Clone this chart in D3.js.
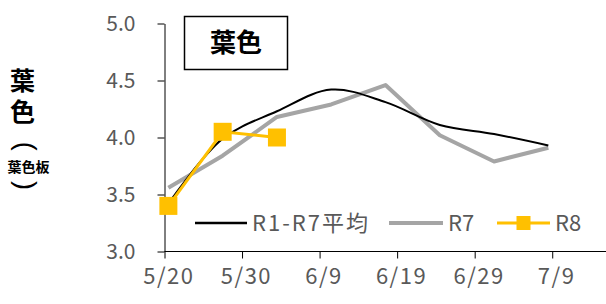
<!DOCTYPE html>
<html>
<head>
<meta charset="utf-8">
<script src="https://cdn.jsdelivr.net/npm/d3@7"></script>
<style>
  body { margin: 0; background: #fff; }
  svg { display: block; font-family: "Noto Sans CJK JP", "Noto Sans", sans-serif; }
</style>
</head>
<body>
<div id="chart"></div>
<script>
// sampling dates (weekly) and values
const dates = ["5/20", "5/27", "6/3", "6/10", "6/17", "6/24", "7/1", "7/8"];
const avgR1R7 = [3.42, 3.99, 4.23, 4.42, 4.31, 4.11, 4.03, 3.93];
const r7 = [3.56, 3.84, 4.18, 4.29, 4.46, 4.02, 3.79, 3.91];
const r8 = [3.40, 4.05, 4.00];

const xTickLabels = ["5/20", "5/30", "6/9", "6/19", "6/29", "7/9"];
const yTicks = [3.0, 3.5, 4.0, 4.5, 5.0];
const seriesNames = ["R1-R7平均", "R7", "R8"];

// day number counted from 5/20
const monthStart = { 5: 0, 6: 31, 7: 61 };
const toDay = (s) => {
	const [m, d] = s.split("/").map(Number);
	return monthStart[m] + d - 20;
};

const width = 606;
const height = 304;

const svg = d3.select("#chart")
	.append("svg")
		.attr("width", width)
		.attr("height", height);

// date axis: one category per day, tick marks sit between days
const xScale = d3.scaleLinear()
	.domain([-0.5, 56.5])
	.range([164.5, 606.5]);

const yScale = d3.scaleLinear()
	.domain([3, 5])
	.range([251.5, 23.5]);

const halfDay = xScale(0) - xScale(-0.5);

// axes
const xAxis = svg.append("g")
	.attr("transform", `translate(0,${yScale(3)})`)
	.call(d3.axisBottom(xScale)
		.tickValues(xTickLabels.map(toDay))
		.tickFormat((d, i) => xTickLabels[i])
		.tickSize(7)
		.tickSizeOuter(0));
xAxis.selectAll(".tick line").attr("transform", `translate(${-halfDay},0)`);
xAxis.select(".domain").attr("d", `M${xScale(-0.5)},0H${width}`);

const yAxis = svg.append("g")
	.attr("transform", `translate(${xScale(-0.5)},0)`)
	.call(d3.axisLeft(yScale)
		.tickValues(yTicks)
		.tickFormat(d3.format(".1f"))
		.tickSize(7)
		.tickSizeOuter(0));

svg.selectAll(".domain, .tick line").attr("stroke", "#000");
xAxis.selectAll(".tick text")
	.attr("font-size", 22)
	.attr("fill", "#595959")
	.attr("dy", "1.0em")
	.attr("letter-spacing", 1.5)
	.attr("font-family", "Noto Sans CJK JP");
yAxis.selectAll(".tick text")
	.attr("font-size", 21)
	.attr("fill", "#595959")
	.attr("x", -29)
	.attr("font-family", "Noto Sans CJK JP");

// lines
const avgData = dates.map((d, i) => ({ day: toDay(d), v: avgR1R7[i] }));
const r7Data = dates.map((d, i) => ({ day: toDay(d), v: r7[i] }));
const r8Data = r8.map((v, i) => ({ day: toDay(dates[i]), v: v }));

const line = d3.line()
	.x(d => xScale(d.day))
	.y(d => yScale(d.v));

svg.append("path")
	.datum(r7Data)
	.attr("d", line)
	.attr("fill", "none")
	.attr("stroke", "#a5a5a5")
	.attr("stroke-width", 4)
	.attr("stroke-linejoin", "round");

svg.append("path")
	.datum(avgData)
	.attr("d", line.curve(d3.curveCatmullRom.alpha(0.5)))
	.attr("fill", "none")
	.attr("stroke", "#000")
	.attr("stroke-width", 2);

line.curve(d3.curveLinear);

svg.append("path")
	.datum(r8Data)
	.attr("d", line)
	.attr("fill", "none")
	.attr("stroke", "#ffc000")
	.attr("stroke-width", 3);

const sq = 18;
svg.selectAll("rect.r8")
	.data(r8Data)
	.join("rect")
		.attr("class", "r8")
		.attr("x", d => xScale(d.day) - sq / 2)
		.attr("y", d => yScale(d.v) - sq / 2)
		.attr("width", sq)
		.attr("height", sq)
		.attr("fill", "#ffc000");

// legend
const legend = svg.append("g").attr("transform", "translate(0,223)");
const legendItems = [
	{ x: 195, w: 52, color: "#000", sw: 2.5, marker: false, ls: 2 },
	{ x: 389, w: 54, color: "#a5a5a5", sw: 4, marker: false, ls: 0 },
	{ x: 497, w: 53, color: "#ffc000", sw: 3, marker: true, ls: 0 }
];
legendItems.forEach((it, i) => {
	legend.append("line")
		.attr("x1", it.x).attr("x2", it.x + it.w)
		.attr("stroke", it.color)
		.attr("stroke-width", it.sw);
	if (it.marker) {
		legend.append("rect")
			.attr("x", it.x + it.w / 2 - 7).attr("y", -7)
			.attr("width", 14).attr("height", 14)
			.attr("fill", it.color);
	}
	legend.append("text")
		.attr("x", it.x + it.w + 5)
		.attr("dy", "0.36em")
		.attr("font-size", 22)
		.attr("letter-spacing", it.ls)
		.attr("fill", "#595959")
		.text(seriesNames[i]);
});

// title box
svg.append("rect")
	.attr("x", 184.5).attr("y", 16.5)
	.attr("width", 103).attr("height", 53)
	.attr("fill", "#fff")
	.attr("stroke", "#000")
	.attr("stroke-width", 1.5);
svg.append("text")
	.attr("x", 236).attr("y", 52)
	.attr("text-anchor", "middle")
	.attr("font-size", 26)
	.attr("font-weight", "bold")
	.attr("fill", "#000")
	.text("葉色");

// y axis title, vertical
const yTitle = svg.append("g").attr("fill", "#000").attr("font-weight", "bold").attr("text-anchor", "middle");
yTitle.append("text").attr("x", 22.5).attr("y", 90).attr("font-size", 25).text("葉");
yTitle.append("text").attr("x", 22.5).attr("y", 121).attr("font-size", 25).text("色");
yTitle.append("text").attr("x", 28.5).attr("y", 171.5).attr("font-size", 14).text("葉色板");

// parentheses turned sideways, as in vertical writing
[{ ch: "(", cy: 146.2 }, { ch: ")", cy: 185.6 }].forEach(p => {
	yTitle.append("g")
		.attr("transform", `translate(25.5,${p.cy}) rotate(90)`)
		.append("text")
			.attr("font-size", 27)
			.attr("font-weight", "normal")
			.attr("font-family", "Liberation Sans")
			.attr("dominant-baseline", "central")
			.text(p.ch);
});
</script>
</body>
</html>
